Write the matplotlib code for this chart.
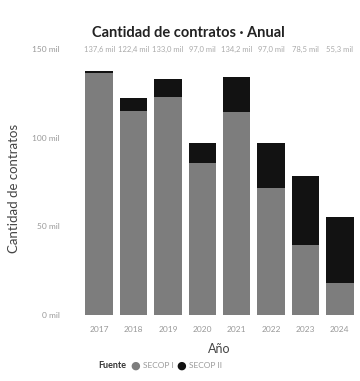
import matplotlib
matplotlib.use("Agg")
import matplotlib.pyplot as plt
import numpy as np

plt.rcParams['font.family'] = ['Lato', 'DejaVu Sans']

# values in thousands (mil)
years = ['2017', '2018', '2019', '2020', '2021', '2022', '2023', '2024']
secop_1 = [136.6, 115.0, 123.0, 85.7, 114.5, 71.6, 39.5, 18.0]
secop_2 = [1.0, 7.4, 10.0, 11.3, 19.7, 25.4, 39.0, 37.3]
y_ticks = [0, 50, 100, 150]
y_tick_labels = ['0 mil', '50 mil', '100 mil', '150 mil']

c1 = '#7d7d7d'
c2 = '#121212'

fig = plt.figure(figsize=(3.6, 3.81), dpi=100)
ax = fig.add_axes([82 / 360, 1 - 315 / 381, 275 / 360, 266 / 381])

x = np.arange(len(years))
ax.bar(x, secop_1, width=0.8, color=c1)
ax.bar(x, secop_2, bottom=secop_1, width=0.8, color=c2)

totals = [a + b for a, b in zip(secop_1, secop_2)]
for xi, t in zip(x, totals):
    ax.text(xi, 150, f'{t:.1f} mil'.replace('.', ','), ha='center', va='center',
            fontsize=5.5, color='#aaaaaa')

ax.set_xlim(-0.5, len(years) - 0.5)
ax.set_ylim(0, 150)
ax.set_xticks(x)
ax.set_xticklabels(years, fontsize=6, color='#999999')
ax.set_yticks(y_ticks)
ax.set_yticklabels(y_tick_labels, fontsize=6, color='#999999')
ax.tick_params(length=0, pad=16, axis='y')
ax.tick_params(length=0, pad=8, axis='x')
for s in ax.spines.values():
    s.set_visible(False)

ax.set_xlabel('Año', fontsize=9, color='#444444', labelpad=7)
fig.text(14 / 360, 1 - 188 / 381, 'Cantidad de contratos', rotation=90,
         ha='center', va='center', fontsize=9.5, color='#444444')
fig.text(188 / 360, 1 - 33 / 381, 'Cantidad de contratos · Anual',
         ha='center', va='center', fontsize=10.5, fontweight='bold', color='#222222')

# legend
ly = 1 - 366 / 381
fig.text(98 / 360, ly, 'Fuente', ha='left', va='center', fontsize=6.5,
         fontweight='bold', color='#333333')
fig.text(130 / 360, ly, '●', ha='left', va='center', fontsize=8, color=c1,
         family='DejaVu Sans')
fig.text(143 / 360, ly, 'SECOP I', ha='left', va='center', fontsize=6, color='#999999')
fig.text(176 / 360, ly, '●', ha='left', va='center', fontsize=8, color=c2,
         family='DejaVu Sans')
fig.text(189 / 360, ly, 'SECOP II', ha='left', va='center', fontsize=6, color='#999999')

fig.savefig('out.png', dpi=100)
